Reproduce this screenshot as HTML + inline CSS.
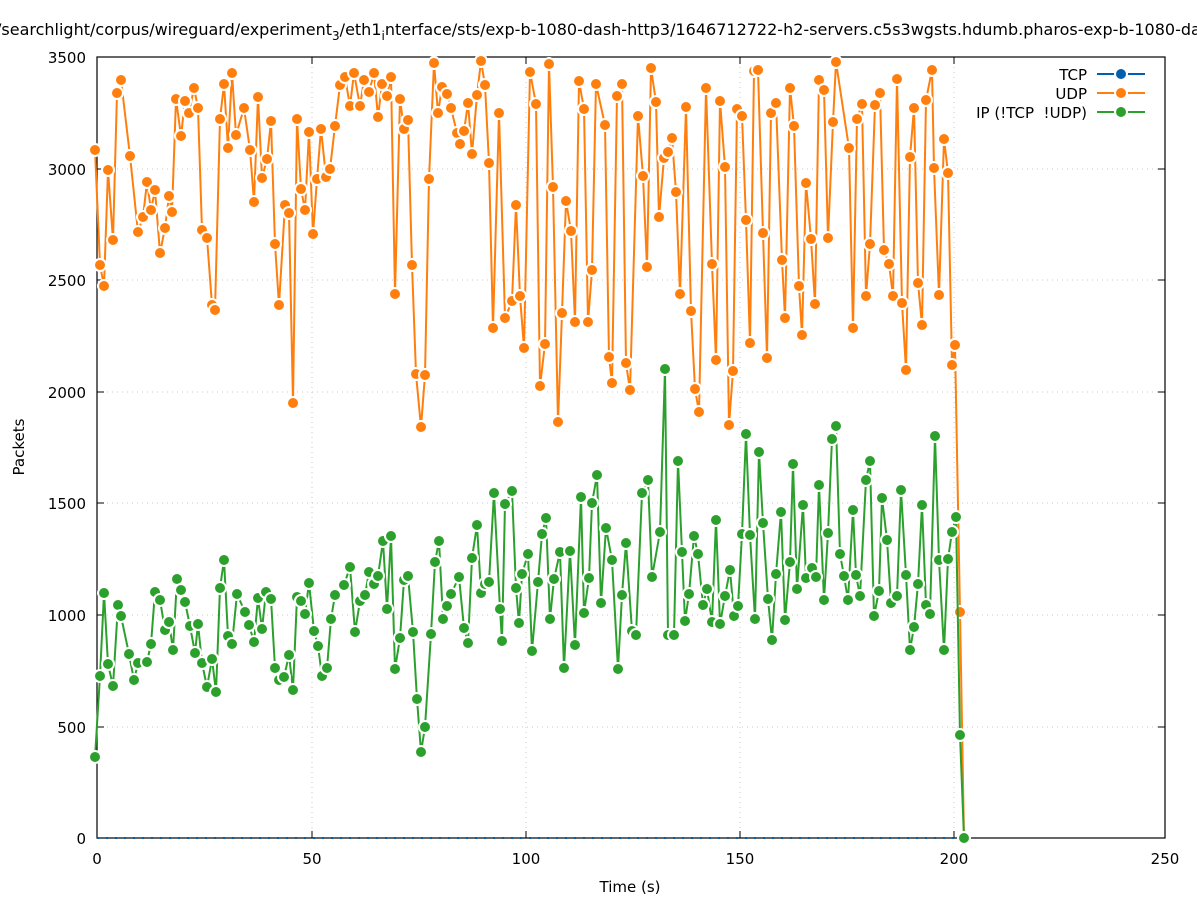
<!DOCTYPE html>
<html><head><meta charset="utf-8"><style>
html,body{margin:0;padding:0;background:#fff;}
svg{display:block;font-family:"DejaVu Sans","Liberation Sans",sans-serif;}
</style></head><body>
<svg id="s" width="1197" height="900" viewBox="0 0 1197 900" xmlns="http://www.w3.org/2000/svg">
<rect width="1197" height="900" fill="#fff"/>
<g stroke="#c8c8c8" stroke-width="1" stroke-dasharray="1,4">
<line x1="97" y1="727" x2="1165" y2="727"/><line x1="97" y1="615" x2="1165" y2="615"/>
<line x1="97" y1="503" x2="1165" y2="503"/><line x1="97" y1="392" x2="1165" y2="392"/>
<line x1="97" y1="280" x2="1165" y2="280"/><line x1="97" y1="169" x2="1165" y2="169"/>
<line x1="312" y1="57" x2="312" y2="838"/><line x1="526" y1="57" x2="526" y2="838"/>
<line x1="740" y1="57" x2="740" y2="838"/><line x1="954" y1="57" x2="954" y2="838"/>
</g>
<rect x="97" y="57" width="1068" height="781" fill="none" stroke="#000" stroke-width="1.2"/>
<g stroke="#000" stroke-width="1">
<line x1="97" y1="727" x2="104" y2="727"/><line x1="97" y1="615" x2="104" y2="615"/><line x1="97" y1="503" x2="104" y2="503"/><line x1="97" y1="392" x2="104" y2="392"/><line x1="97" y1="280" x2="104" y2="280"/><line x1="97" y1="169" x2="104" y2="169"/>
<line x1="1165" y1="727" x2="1158" y2="727"/><line x1="1165" y1="615" x2="1158" y2="615"/><line x1="1165" y1="503" x2="1158" y2="503"/><line x1="1165" y1="392" x2="1158" y2="392"/><line x1="1165" y1="280" x2="1158" y2="280"/><line x1="1165" y1="169" x2="1158" y2="169"/>
<line x1="312" y1="838" x2="312" y2="831"/><line x1="526" y1="838" x2="526" y2="831"/><line x1="740" y1="838" x2="740" y2="831"/><line x1="954" y1="838" x2="954" y2="831"/>
<line x1="312" y1="57" x2="312" y2="64"/><line x1="526" y1="57" x2="526" y2="64"/><line x1="740" y1="57" x2="740" y2="64"/><line x1="954" y1="57" x2="954" y2="64"/>
</g>
<g font-size="15" fill="#000" text-anchor="end">
<text x="86" y="844">0</text><text x="86" y="733">500</text><text x="86" y="621">1000</text><text x="86" y="509">1500</text><text x="86" y="398">2000</text><text x="86" y="286">2500</text><text x="86" y="175">3000</text><text x="86" y="63">3500</text>
</g>
<g font-size="15" fill="#000" text-anchor="middle">
<text x="97" y="864">0</text><text x="312" y="864">50</text><text x="526" y="864">100</text><text x="740" y="864">150</text><text x="954" y="864">200</text><text x="1165" y="864">250</text>
<text x="630" y="892">Time (s)</text>
<text transform="translate(24,447) rotate(-90)">Packets</text>
</g>
<text x="-4" y="35" font-size="16" fill="#000">/searchlight/corpus/wireguard/experiment<tspan font-size="12" dy="5">3</tspan><tspan dy="-5">/eth1</tspan><tspan font-size="12" dy="5">i</tspan><tspan dy="-5">nterface/sts/exp-b-1080-dash-http3/1646712722-h2-servers.c5s3wgsts.hdumb.pharos-exp-b-1080-dash</tspan></text>
<g id="plot"></g>
<g font-size="15" fill="#000" text-anchor="end">
<text x="1087" y="80">TCP</text><text x="1087" y="99">UDP</text><text x="1087" y="118" xml:space="preserve">IP (!TCP  !UDP)</text>
</g>
<g stroke-width="2">
<line x1="1097" y1="74" x2="1145" y2="74" stroke="#0060ad"/><circle cx="1121" cy="74" r="6" fill="#0060ad" stroke="#fff" stroke-width="2"/>
<line x1="1097" y1="93" x2="1145" y2="93" stroke="#ff7f0e"/><circle cx="1121" cy="93" r="6" fill="#ff7f0e" stroke="#fff" stroke-width="2"/>
<line x1="1097" y1="112" x2="1145" y2="112" stroke="#2ca02c"/><circle cx="1121" cy="112" r="6" fill="#2ca02c" stroke="#fff" stroke-width="2"/>
</g>
</svg>
<script>
var U=[[95,150],[100,265],[104,286],[108,170],[113,240],[117,93],[121,80],[130,156],[138,232],[143,217],[147,182],[151,210],[155,190],[160,253],[165,228],[169,196],[172,212],[176,99],[181,136],[185,101],[189,113],[194,88],[198,108],[202,230],[207,238],[212,305],[215,310],[220,119],[224,84],[228,148],[232,73],[236,135],[244,108],[250,150],[254,202],[258,97],[262,178],[267,159],[271,121],[275,244],[279,305],[285,205],[289,213],[293,403],[297,119],[301,189],[305,210],[309,132],[313,234],[317,179],[321,129],[326,177],[330,169],[335,126],[340,85],[345,77],[350,106],[354,73],[360,106],[364,80],[369,92],[374,73],[378,117],[382,84],[387,96],[391,77],[395,294],[400,99],[404,129],[408,120],[412,265],[416,374],[421,427],[425,375],[429,179],[434,63],[438,113],[442,87],[447,94],[451,108],[457,133],[460,144],[464,131],[468,103],[472,154],[477,95],[481,61],[485,85],[489,163],[493,328],[499,113],[505,318],[512,301],[516,205],[520,296],[524,348],[530,72],[536,104],[540,386],[545,344],[549,64],[553,187],[558,422],[562,313],[566,201],[571,231],[575,322],[579,81],[584,109],[588,322],[592,270],[596,84],[605,125],[609,357],[612,383],[617,96],[622,84],[626,363],[630,390],[638,116],[643,176],[647,267],[651,68],[656,102],[659,217],[664,158],[668,152],[672,138],[676,192],[680,294],[686,107],[691,311],[695,389],[699,412],[706,88],[712,264],[716,360],[720,101],[725,167],[729,425],[733,371],[737,109],[742,116],[746,220],[750,343],[754,71],[758,70],[763,233],[767,358],[771,113],[776,103],[782,260],[785,318],[790,88],[794,126],[799,286],[802,335],[806,183],[811,239],[815,304],[819,80],[824,90],[828,238],[833,122],[836,62],[849,148],[853,328],[857,119],[862,104],[866,296],[870,244],[875,105],[880,93],[884,250],[889,264],[893,296],[897,79],[902,303],[906,370],[910,157],[914,108],[918,283],[922,325],[926,100],[932,70],[934,168],[939,295],[944,139],[948,173],[952,365],[955,345],[960,612],[964,838]];
var G=[[95,757],[100,676],[104,593],[108,664],[113,686],[118,605],[121,616],[129,654],[134,680],[138,663],[147,662],[151,644],[155,592],[160,600],[165,630],[169,622],[173,650],[177,579],[181,590],[185,602],[190,626],[195,653],[198,624],[202,663],[207,687],[212,659],[216,692],[220,588],[224,560],[228,636],[232,644],[237,594],[245,612],[249,625],[254,642],[258,598],[262,629],[266,592],[271,599],[275,668],[279,680],[284,677],[289,655],[293,690],[297,597],[301,601],[305,614],[309,583],[314,631],[318,646],[322,676],[327,668],[331,619],[335,595],[344,585],[350,567],[355,632],[360,601],[365,595],[369,572],[374,584],[378,576],[383,541],[387,609],[391,536],[395,669],[400,638],[404,580],[408,576],[413,632],[417,699],[421,752],[425,727],[431,634],[435,562],[439,541],[443,619],[447,606],[451,594],[459,577],[464,628],[468,643],[472,558],[477,525],[481,593],[485,584],[489,582],[494,493],[500,609],[502,641],[505,504],[512,491],[516,588],[519,623],[522,574],[528,554],[532,651],[538,582],[542,534],[546,518],[550,619],[554,579],[560,552],[564,668],[570,551],[575,645],[581,497],[584,613],[589,578],[592,503],[597,475],[601,603],[606,528],[612,560],[618,669],[622,595],[626,543],[632,631],[636,635],[642,493],[648,480],[652,577],[660,532],[665,369],[668,635],[674,635],[678,461],[682,552],[685,621],[689,594],[694,536],[698,554],[703,605],[707,589],[712,622],[716,520],[720,624],[725,596],[730,570],[734,616],[738,606],[742,534],[746,434],[750,535],[755,619],[759,452],[763,523],[768,599],[772,640],[776,574],[781,512],[785,620],[790,562],[793,464],[797,589],[803,505],[806,578],[812,568],[816,577],[819,485],[824,600],[828,533],[832,439],[836,426],[840,554],[844,576],[848,600],[853,510],[856,575],[860,596],[866,480],[870,461],[874,616],[879,591],[882,498],[887,540],[891,603],[897,596],[901,490],[906,575],[910,650],[914,627],[918,584],[922,505],[926,605],[930,614],[935,436],[939,560],[944,650],[948,559],[952,532],[956,517],[960,735],[964,838]];
var NS="http://www.w3.org/2000/svg",P=document.getElementById("plot");
function el(n,a){var e=document.createElementNS(NS,n);for(var k in a)e.setAttribute(k,a[k]);P.appendChild(e);return e;}
el("line",{x1:97,y1:838,x2:964,y2:838,stroke:"#0060ad","stroke-width":2,"stroke-dasharray":"2,7"});
function series(d,c){el("polyline",{points:d.map(function(p){return p.join(",")}).join(" "),fill:"none",stroke:c,"stroke-width":2,"stroke-linejoin":"round"});
d.forEach(function(p){el("circle",{cx:p[0],cy:p[1],r:6,fill:c,stroke:"#fff","stroke-width":2});});}
series(U,"#ff7f0e");series(G,"#2ca02c");
</script>
</body></html>
